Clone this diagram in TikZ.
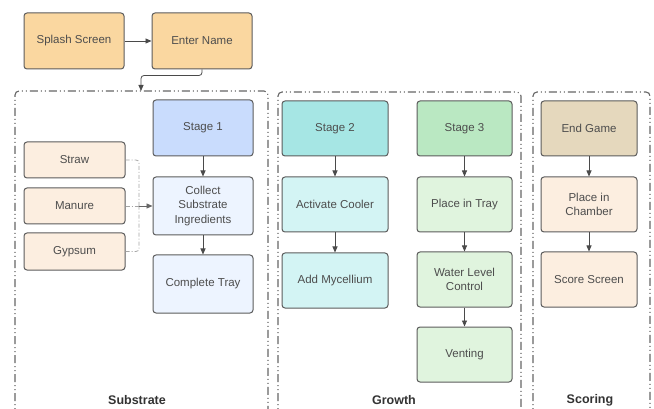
\documentclass[tikz,border=0pt]{standalone}
\usepackage{fontspec}
\setmainfont{Liberation Sans}
\usetikzlibrary{arrows.meta}
\definecolor{txt}{HTML}{4D4D4D}
\definecolor{bord}{HTML}{5C5C5C}
\definecolor{cOrange}{HTML}{FAD7A0}
\definecolor{cBlueD}{HTML}{C9DCFD}
\definecolor{cBlueL}{HTML}{EDF4FF}
\definecolor{cPeach}{HTML}{FCEEE0}
\definecolor{cTealD}{HTML}{A6E6E4}
\definecolor{cTealL}{HTML}{D3F4F4}
\definecolor{cGreenD}{HTML}{BAE8C2}
\definecolor{cGreenL}{HTML}{E0F4DE}
\definecolor{cTan}{HTML}{E5D8BD}
\definecolor{contc}{HTML}{666666}
\definecolor{linec}{HTML}{4A4A4A}
\tikzset{
  box/.style={draw=bord, line width=1pt, rounded corners=3pt, align=center,
    text=txt, font=\fontsize{11.5}{14.5}\selectfont, inner sep=2pt},
  container/.style={draw=contc, line width=1.1pt, rounded corners=4pt,
    dash pattern=on 8pt off 3pt on 1pt off 3pt on 1pt off 3pt},
  conn/.style={draw=linec, line width=0.8pt, -{Triangle[length=6pt,width=5pt]}},
  ingr/.style={draw=gray!70, line width=0.8pt, dash pattern=on 4pt off 2pt on 1pt off 2pt},
  lanelabel/.style={font=\fontsize{12.5}{14}\selectfont\bfseries, text=black!80}
}
\begin{document}
\begin{tikzpicture}[x=1pt,y=-1pt]
\useasboundingbox (0,0) rectangle (654,409);
\fill[white] (0,0) rectangle (654,409);

% containers
\draw[container] (15,420) -- (15,91) -- (268,91) -- (268,420);
\draw[container] (278,420) -- (278,92) -- (521,92) -- (521,420);
\draw[container] (533,420) -- (533,92) -- (650,92) -- (650,420);
\coordinate (subtop) at (141,91);

% lane labels
\node[lanelabel] (lsub) at (137,400) {Substrate};
\node[lanelabel] (lgro) at (394,400) {Growth};
\node[lanelabel] (lsco) at (590,400) {Scoring};

% top
\node[box, fill=cOrange, minimum width=100pt, minimum height=56pt] (splash) at (74,41) {Splash Screen};
\node[box, fill=cOrange, minimum width=100pt, minimum height=56pt] (enter) at (202,41) {Enter Name};

% substrate
\node[box, fill=cBlueD, minimum width=100pt, minimum height=56pt] (stage1) at (203,128) {Stage 1};
\node[box, fill=cBlueL, minimum width=100pt, minimum height=58pt] (collect) at (203,206) {Collect\\Substrate\\Ingredients};
\node[box, fill=cBlueL, minimum width=100pt, minimum height=58pt] (ctray) at (203,284) {Complete Tray};
\node[box, fill=cPeach, minimum width=101pt, minimum height=36pt] (straw) at (74.5,160) {Straw};
\node[box, fill=cPeach, minimum width=101pt, minimum height=36pt] (manure) at (74.5,206) {Manure};
\node[box, fill=cPeach, minimum width=101pt, minimum height=37pt] (gypsum) at (74.5,251.5) {Gypsum};

% growth
\node[box, fill=cTealD, minimum width=106pt, minimum height=55pt] (stage2) at (335,128.5) {Stage 2};
\node[box, fill=cTealL, minimum width=106pt, minimum height=55pt] (cooler) at (335,204.5) {Activate Cooler};
\node[box, fill=cTealL, minimum width=106pt, minimum height=55pt] (myc) at (335,280.5) {Add Mycellium};
\node[box, fill=cGreenD, minimum width=95pt, minimum height=55pt] (stage3) at (464.5,128.5) {Stage 3};
\node[box, fill=cGreenL, minimum width=95pt, minimum height=55pt] (tray) at (464.5,204.5) {Place in Tray};
\node[box, fill=cGreenL, minimum width=95pt, minimum height=55pt] (water) at (464.5,279.5) {Water Level\\Control};
\node[box, fill=cGreenL, minimum width=95pt, minimum height=55pt] (venting) at (464.5,354.5) {Venting};

% scoring
\node[box, fill=cTan, minimum width=96pt, minimum height=55pt] (endgame) at (589,128.5) {End Game};
\node[box, fill=cPeach, minimum width=96pt, minimum height=55pt] (chamber) at (589,204.5) {Place in\\Chamber};
\node[box, fill=cPeach, minimum width=96pt, minimum height=55pt] (score) at (589,279.5) {Score Screen};

% connectors
\draw[conn] (splash) -- (enter);
\draw[conn, rounded corners=3pt] (enter.south) -- ++(0,6) -| (subtop);
\draw[conn] (stage1) -- (collect);
\draw[conn] (collect) -- (ctray);
\draw[conn] (stage2) -- (cooler);
\draw[conn] (cooler) -- (myc);
\draw[conn] (stage3) -- (tray);
\draw[conn] (tray) -- (water);
\draw[conn] (water) -- (venting);
\draw[conn] (endgame) -- (chamber);
\draw[conn] (chamber) -- (score);

\coordinate (join) at (139,206);
\draw[ingr, rounded corners=3pt] (straw.east) -| (join);
\draw[ingr, rounded corners=3pt] (gypsum.east) -| (join);
\draw[ingr] (manure.east) -- (join);
\draw[conn, draw=gray!80!black] (join) -- (collect.west);
\end{tikzpicture}
\end{document}
